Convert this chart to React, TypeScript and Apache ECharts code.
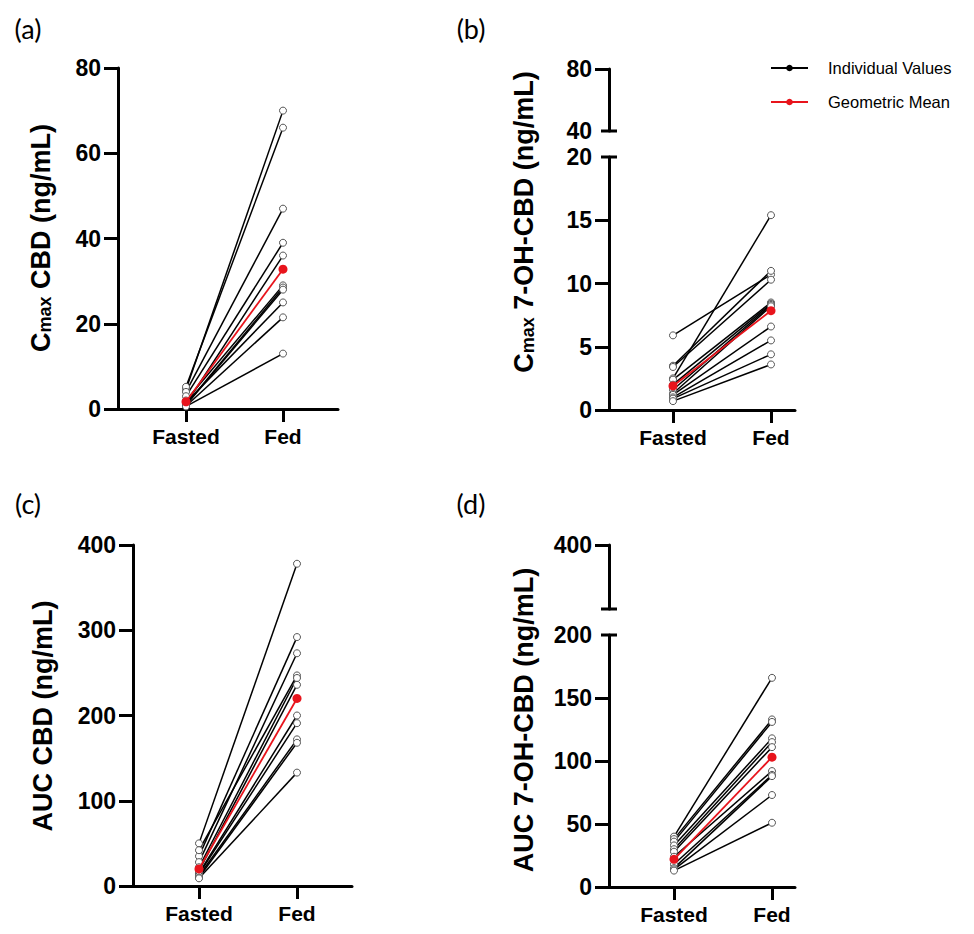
import React, { useEffect, useRef } from 'react';
import * as echarts from 'echarts';

// ---------- data ----------
const conditions = ['Fasted', 'Fed'];

// (a) Cmax CBD (ng/mL)
const cmaxCbdFasted = [4.6, 5.2, 4.0, 3.0, 1.2, 2.0, 1.0, 0.9, 1.5, 0.7, 0.6];
const cmaxCbdFed = [70, 66, 47, 39, 36, 29, 28.5, 28, 25, 21.5, 13];
const cmaxCbdMean = [1.7, 32.8];

// (b) Cmax 7-OH-CBD (ng/mL)
const cmax7ohFasted = [5.9, 2.5, 3.5, 3.4, 2.4, 2.0, 1.6, 1.3, 1.2, 1.0, 0.9, 0.7];
const cmax7ohFed = [10.7, 15.4, 11.0, 10.3, 8.5, 8.4, 8.3, 8.2, 6.6, 5.5, 4.4, 3.6];
const cmax7ohMean = [1.9, 7.85];

// (c) AUC CBD (ng/mL)
const aucCbdFasted = [50, 35, 28, 42, 22, 18, 15, 14, 12, 10, 9];
const aucCbdFed = [378, 292, 273, 247, 244, 236, 200, 191, 172, 168, 133];
const aucCbdMean = [20, 220];

// (d) AUC 7-OH-CBD (ng/mL)
const auc7ohFasted = [40, 38, 36, 33, 30, 28, 24, 18, 15, 14, 13];
const auc7ohFed = [166, 133, 131, 118, 115, 111, 92, 89, 88, 73, 51];
const auc7ohMean = [22, 103];

const legendNames = ['Individual Values', 'Geometric Mean'];

// ---------- styling / layout ----------
const FONT = '"Liberation Sans", Arial, Helvetica, sans-serif';
const BLACK = '#000';
const RED = '#e8141c';
const AXIS_W = 3;

type Seg = { min: number; max: number; interval: number; top: number; bottom: number; labels?: number[]; ticks?: number[] };
type Panel = {
  label: string;
  title: { pre: string; sub?: string; post: string };
  titlePos: [number, number];
  labelPos: [number, number];
  fasted: number[];
  fed: number[];
  mean: number[];
  lower: Seg;
  upper?: Seg;
  axisX: number;
  fastedX: number;
  fedX: number;
  rightX: number;
};

const panels: Panel[] = [
  {
    label: '(a)', title: { pre: 'C', sub: 'max', post: ' CBD (ng/mL)' }, titlePos: [38, 238], labelPos: [28, 28],
    fasted: cmaxCbdFasted, fed: cmaxCbdFed, mean: cmaxCbdMean,
    lower: { min: 0, max: 80, interval: 20, top: 68, bottom: 409 },
    axisX: 118, fastedX: 186, fedX: 283, rightX: 338,
  },
  {
    label: '(b)', title: { pre: 'C', sub: 'max', post: ' 7-OH-CBD (ng/mL)' }, titlePos: [521, 222], labelPos: [471, 28],
    fasted: cmax7ohFasted, fed: cmax7ohFed, mean: cmax7ohMean,
    lower: { min: 0, max: 20, interval: 5, top: 157, bottom: 410, ticks: [0, 5, 10, 15] },
    upper: { min: 40, max: 80, interval: 40, top: 69, bottom: 131, ticks: [80] },
    axisX: 609, fastedX: 673, fedX: 771, rightX: 795,
  },
  {
    label: '(c)', title: { pre: 'AUC CBD (ng/mL)', post: '' }, titlePos: [40, 716], labelPos: [28, 503],
    fasted: aucCbdFasted, fed: aucCbdFed, mean: aucCbdMean,
    lower: { min: 0, max: 400, interval: 100, top: 545, bottom: 886 },
    axisX: 133, fastedX: 199, fedX: 297, rightX: 352,
  },
  {
    label: '(d)', title: { pre: 'AUC 7-OH-CBD (ng/mL)', post: '' }, titlePos: [521, 720], labelPos: [471, 503],
    fasted: auc7ohFasted, fed: auc7ohFed, mean: auc7ohMean,
    lower: { min: 0, max: 200, interval: 50, top: 635, bottom: 887, ticks: [0, 50, 100, 150] },
    upper: { min: 300, max: 400, interval: 100, top: 545, bottom: 609, labels: [400], ticks: [400] },
    axisX: 609, fastedX: 674, fedX: 772, rightX: 795,
  },
];

function buildOption() {
  const grid: any[] = [];
  const xAxis: any[] = [];
  const yAxis: any[] = [];
  const series: any[] = [];
  const graphic: any[] = [];

  const tickLabel = { fontFamily: FONT, fontWeight: 'bold', fontSize: 23, color: BLACK, margin: 17 };
  const lineStyle = { color: BLACK, width: AXIS_W };

  panels.forEach((p) => {
    const unit = p.fedX - p.fastedX;
    const xMin = 1 - (p.fastedX - p.axisX) / unit;
    const xMax = 2 + (p.rightX - p.fedX) / unit;

    const addGrid = (seg: Seg, showX: boolean) => {
      const gi = grid.length;
      grid.push({ left: p.axisX, top: seg.top, width: p.rightX - p.axisX, height: seg.bottom - seg.top, containLabel: false });
      xAxis.push({
        gridIndex: gi, type: 'value', min: xMin, max: xMax, show: showX,
        axisLine: { show: true, onZero: false, lineStyle },
        axisTick: { show: true, length: 13, customValues: [1, 2], lineStyle },
        axisLabel: {
          ...tickLabel, fontSize: 21, margin: 17, customValues: [1, 2],
          formatter: (v: number) => (Math.round(v) === 1 ? conditions[0] : conditions[1]),
        },
        splitLine: { show: false },
      });
      const yTick: any = { show: true, length: 14, lineStyle };
      if (seg.ticks) yTick.customValues = seg.ticks;
      const yLab: any = { ...tickLabel };
      if (seg.labels) yLab.customValues = seg.labels;
      yAxis.push({
        gridIndex: gi, type: 'value', min: seg.min, max: seg.max, interval: seg.interval,
        axisLine: { show: true, onZero: false, lineStyle },
        axisTick: yTick, axisLabel: yLab, splitLine: { show: false },
      });
      return gi;
    };

    const lowerIdx = addGrid(p.lower, true);
    if (p.upper) {
      addGrid(p.upper, false);
      // break caps
      [p.upper.bottom, p.lower.top].forEach((y) => {
        graphic.push({ type: 'line', shape: { x1: p.axisX - 8, y1: y, x2: p.axisX + 8, y2: y }, style: { stroke: BLACK, lineWidth: AXIS_W } });
      });
    }

    p.fasted.forEach((f, i) => {
      series.push({
        type: 'line', name: legendNames[0], xAxisIndex: lowerIdx, yAxisIndex: lowerIdx,
        data: [[1, f], [2, p.fed[i]]],
        symbol: 'circle', symbolSize: 7,
        lineStyle: { color: BLACK, width: 1.5 },
        itemStyle: { color: '#fff', borderColor: '#555', borderWidth: 1 },
        emphasis: { disabled: true }, z: 3,
      });
    });
    series.push({
      type: 'line', name: legendNames[1], xAxisIndex: lowerIdx, yAxisIndex: lowerIdx,
      data: [[1, p.mean[0]], [2, p.mean[1]]],
      symbol: 'circle', symbolSize: 9,
      lineStyle: { color: RED, width: 1.8 },
      itemStyle: { color: RED, borderColor: RED, borderWidth: 0 },
      emphasis: { disabled: true }, z: 4,
    });

    // axis title
    const rich: any = {
      b: { fontFamily: FONT, fontWeight: 'bold', fontSize: 27, lineHeight: 32, verticalAlign: 'bottom', fill: BLACK },
      s: { fontFamily: FONT, fontWeight: 'bold', fontSize: 18, lineHeight: 13, verticalAlign: 'bottom', fill: BLACK },
    };
    const txt = p.title.sub
      ? `{b|${p.title.pre}}{s|${p.title.sub}}{b|${p.title.post}}`
      : `{b|${p.title.pre}}`;
    graphic.push({
      type: 'text', x: p.titlePos[0], y: p.titlePos[1], rotation: Math.PI / 2,
      style: { text: txt, rich, align: 'center', verticalAlign: 'middle', fill: BLACK },
    });
    // panel label
    graphic.push({
      type: 'text', x: p.labelPos[0], y: p.labelPos[1],
      style: { text: p.label, fontFamily: 'Lato, "Open Sans", sans-serif', fontSize: 27, fill: BLACK, align: 'center', verticalAlign: 'middle' },
    });
  });

  // legend (drawn)
  const legendRows = [
    { name: legendNames[0], color: BLACK, y: 68 },
    { name: legendNames[1], color: RED, y: 102 },
  ];
  legendRows.forEach((r) => {
    graphic.push({ type: 'line', shape: { x1: 771, y1: r.y, x2: 808, y2: r.y }, style: { stroke: r.color, lineWidth: 2 } });
    graphic.push({ type: 'circle', shape: { cx: 789.5, cy: r.y, r: 3.3 }, style: { fill: r.color } });
    graphic.push({
      type: 'text', x: 828, y: r.y,
      style: { text: r.name, fontFamily: FONT, fontSize: 16.5, fill: BLACK, align: 'left', verticalAlign: 'middle' },
    });
  });

  return {
    animation: false,
    backgroundColor: '#fff',
    grid, xAxis, yAxis, series, graphic,
  };
}

export default function App() {
  const ref = useRef<HTMLDivElement>(null);
  useEffect(() => {
    if (!ref.current) return;
    const chart = echarts.init(ref.current, undefined, { renderer: 'svg' });
    chart.setOption(buildOption() as any);
    return () => chart.dispose();
  }, []);
  return (
    <div
      ref={ref}
      style={{ position: 'absolute', left: 0, top: 0, width: 974, height: 934, background: '#fff' }}
    />
  );
}
